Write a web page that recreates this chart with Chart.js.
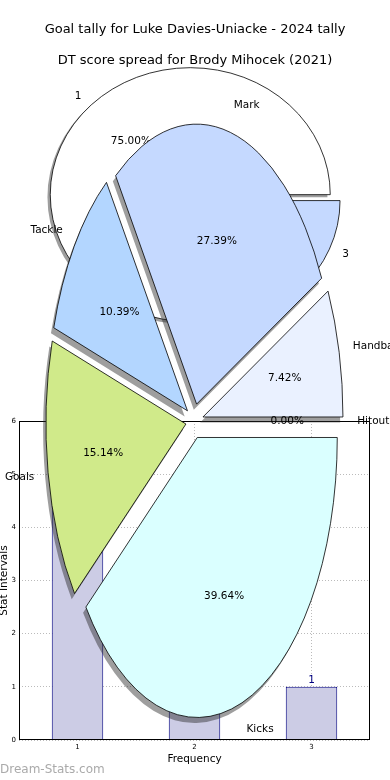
<!DOCTYPE html>
<html>
<head>
<meta charset="utf-8">
<script src="https://cdn.jsdelivr.net/npm/chart.js@4.4.1/dist/chart.umd.min.js"></script>
<style>
    html, body { margin: 0; padding: 0; background: #fff; }
    #stage { position: relative; width: 390px; height: 780px; overflow: hidden; }
    #stage canvas { position: absolute; left: 0; top: 0; }
</style>
</head>
<body>
<div id="stage">
    <canvas id="bars" width="390" height="780"></canvas>
    <canvas id="backPie" width="390" height="780"></canvas>
    <canvas id="frontPie" width="390" height="780"></canvas>
</div>
<script>
const mainTitle = "Goal tally for Luke Davies-Uniacke - 2024 tally";
const pieTitle = "DT score spread for Brody Mihocek (2021)";

// bar chart
const intervals = ["1", "2", "3"];
const frequencies = [6, 1, 1];
const yTicks = [0, 1, 2, 3, 4, 5, 6];

// pies are listed clockwise starting at 3 o'clock
const backLabels = ["3", "2", "1"];
const backShares = [12.5, 12.5, 75.0];
const backColors = ["#c5d9ff", "#b3d6ff", "#ffffff"];

const statLabels = ["Hitout", "Kicks", "Goals", "Tackle", "Mark", "Handball"];
const statShares = [0.00, 39.64, 15.14, 10.39, 27.39, 7.42];
const statColors = ["#dde8ff", "#daffff", "#d0ea8a", "#b3d6ff", "#c5d9ff", "#eaf1ff"];

Chart.defaults.font.family = "'DejaVu Sans'";
Chart.defaults.color = "#000";

const FONT = "'DejaVu Sans'";

// stretched, exploded pie with shadows, labels drawn like matplotlib
const ellipsePie = {
    id: "ellipsePie",
    beforeDatasetsDraw(chart, args, opts) {
        const ctx = chart.ctx;
        const a = chart.chartArea;
        const cx = (a.left + a.right) / 2;
        const cy = (a.top + a.bottom) / 2;
        chart.getDatasetMeta(0).data.forEach(arc => {
            const mid = (arc.startAngle + arc.endAngle) / 2;
            arc.x = cx + Math.cos(mid) * opts.explode;
            arc.y = cy + Math.sin(mid) * opts.explode;
        });
        ctx.save();
        ctx.translate(cx, cy);
        ctx.scale(1, opts.sy);
        ctx.translate(-cx, -cy);
        ctx.shadowColor = "rgba(40, 40, 40, 0.45)";
        ctx.shadowOffsetX = opts.shadow[0];
        ctx.shadowOffsetY = opts.shadow[1];
        // keep outlines thin even though the path is stretched, and no shadow on them
        ctx.stroke = function () {
            this.save();
            this.setTransform(1, 0, 0, 1, 0, 0);
            this.shadowColor = "rgba(0, 0, 0, 0)";
            CanvasRenderingContext2D.prototype.stroke.call(this);
            this.restore();
        };
    },
    afterDatasetsDraw(chart, args, opts) {
        const ctx = chart.ctx;
        delete ctx.stroke;
        ctx.restore();

        const a = chart.chartArea;
        const cy = (a.top + a.bottom) / 2;
        const values = chart.data.datasets[0].data;
        ctx.save();
        ctx.fillStyle = "#000";
        ctx.font = "10.5px " + FONT;
        ctx.textBaseline = "middle";
        chart.getDatasetMeta(0).data.forEach((arc, i) => {
            const mid = (arc.startAngle + arc.endAngle) / 2;
            const c = Math.cos(mid), s = Math.sin(mid);
            const r = arc.outerRadius;
            const ex = arc.x;
            const ey = cy + (arc.y - cy) * opts.sy;
            ctx.textAlign = c > 0 ? "left" : "right";
            ctx.fillText(chart.data.labels[i], ex + c * r * 1.1, ey + s * r * 1.1 * opts.sy);
            ctx.textAlign = "center";
            ctx.fillText(values[i].toFixed(2) + "%", ex + c * r * 0.6, ey + s * r * 0.6 * opts.sy);
        });
        ctx.restore();
    }
};

const barExtras = {
    id: "barExtras",
    afterDatasetsDraw(chart) {
        const ctx = chart.ctx;
        ctx.save();
        ctx.fillStyle = "#000080";
        ctx.font = "10.5px " + FONT;
        ctx.textAlign = "center";
        ctx.textBaseline = "alphabetic";
        chart.getDatasetMeta(0).data.forEach((bar, i) => {
            ctx.fillText(String(frequencies[i]), bar.x, bar.y - 4);
        });
        ctx.restore();
    },
    afterDraw(chart) {
        const ctx = chart.ctx;
        const a = chart.chartArea;
        ctx.save();
        ctx.strokeStyle = "#000";
        ctx.lineWidth = 1;
        ctx.strokeRect(a.left + 0.5, a.top + 0.5, a.right - a.left - 1, a.bottom - a.top - 1);

        ctx.fillStyle = "#000";
        ctx.textAlign = "center";
        ctx.textBaseline = "middle";
        ctx.font = "13px " + FONT;
        ctx.fillText(mainTitle, 195, 30);
        ctx.fillText(pieTitle, 195, 61);

        ctx.fillStyle = "#aaaaaa";
        ctx.textAlign = "left";
        ctx.font = "12px " + FONT;
        ctx.fillText("Dream-Stats.com", 0, 770);
        ctx.restore();
    }
};

new Chart(document.getElementById("bars"), {
    type: "bar",
    data: {
        labels: intervals,
        datasets: [{
            data: frequencies,
            backgroundColor: "#ccccе5".replace("е", "e"),
            borderColor: "#000080",
            borderWidth: 1,
            barPercentage: 0.44,
            categoryPercentage: 1
        }]
    },
    options: {
        responsive: false,
        animation: false,
        events: [],
        layout: { padding: { top: 421, right: 20, bottom: 0, left: 0 } },
        plugins: { legend: { display: false }, tooltip: { enabled: false } },
        scales: {
            x: {
                z: 1,
                grid: { offset: false, color: "#bbbbbb", drawTicks: false },
                border: { display: false, dash: [1, 2] },
                ticks: { font: { size: 7 }, padding: 3 },
                title: { display: true, text: "Frequency", font: { size: 10.5 }, padding: { top: 0, bottom: 14 } },
                afterFit: s => { s.height = 40; }
            },
            y: {
                z: 1,
                min: 0,
                max: 6,
                grid: { color: "#bbbbbb", drawTicks: false },
                border: { display: false, dash: [1, 2] },
                ticks: { font: { size: 7 }, padding: 3 },
                afterBuildTicks: s => { s.ticks = yTicks.map(v => ({ value: v })); },
                title: { display: true, text: "Stat Intervals", font: { size: 10.5 }, padding: { top: -2, bottom: 0 } },
                afterFit: s => { s.width = 19; }
            }
        }
    },
    plugins: [barExtras]
});

function makePie(id, labels, shares, colors, padding, pieOpts) {
    return new Chart(document.getElementById(id), {
        type: "pie",
        data: {
            labels: labels,
            datasets: [{ data: shares, backgroundColor: colors, borderColor: "#000", borderWidth: 0.8 }]
        },
        options: {
            responsive: false,
            animation: false,
            events: [],
            rotation: 90,
            radius: 140,
            layout: { padding: padding },
            plugins: { legend: { display: false }, tooltip: { enabled: false }, ellipsePie: pieOpts }
        },
        plugins: [ellipsePie]
    });
}

makePie("backPie", backLabels, backShares, backColors,
    { left: 0, right: 1, top: 0, bottom: 383 },
    { sy: 0.907, explode: 6, shadow: [-2.8, 2.5] });

makePie("frontPie", statLabels, statShares, statColors,
    { left: 0, right: 1, top: 62, bottom: 0 },
    { sy: 2, explode: 8.7, shadow: [-2.8, 5.6] });
</script>
</body>
</html>
